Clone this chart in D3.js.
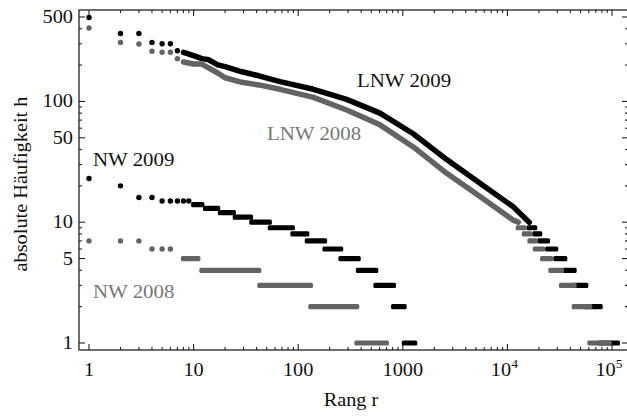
<!DOCTYPE html>
<html>
<head>
<meta charset="UTF-8">
<title>Rang-Häufigkeit</title>
<script src="https://d3js.org/d3.v7.min.js"></script>
<style>
  body { margin: 0; background: #fff; }
  svg text { font-family: "Liberation Serif", "DejaVu Serif", serif; }
</style>
</head>
<body>
<div id="chart"></div>
<script>
// points [rank, h] for the first ranks
var lnw09Head = [[1, 495], [2, 365], [3, 365], [4, 308], [5, 300], [6, 300], [7, 263]];
var lnw08Head = [[1, 405], [2, 308], [3, 299], [4, 260], [5, 255], [6, 255], [7, 226]];
// dense middle part [rank, h]
var lnw09Curve = [[8, 255], [10, 239], [12, 226], [14, 221], [17, 201], [20, 194], [29, 176], [42, 163],
                  [67, 146], [140, 126], [291, 104], [605, 80], [1260, 54], [2630, 33], [5470, 21],
                  [11400, 13.4], [16150, 10]];
var lnw08Curve = [[8, 212], [10, 204], [12, 204], [14, 189], [17, 172], [20, 157], [29, 144], [42, 137],
                  [67, 126], [140, 108], [291, 85], [605, 64], [1260, 42], [2630, 25.4], [5470, 16.3],
                  [11400, 10.4], [12700, 10]];
// runs of equal frequency [h, first rank, last rank]
var lnw09Runs = [[9, 16150, 18280], [8, 18280, 20400], [7, 20400, 24200], [6, 24200, 29000], [5, 29000, 35400],
                 [4, 35400, 43500], [3, 43500, 56200], [2, 56200, 77100], [1, 77100, 113000]];
var lnw08Runs = [[9, 12700, 14500], [8, 14500, 16400], [7, 16400, 18450], [6, 18450, 21700], [5, 21700, 26000],
                 [4, 26000, 32900], [3, 32900, 43500], [2, 43500, 61400], [1, 61400, 94000]];

var nw09Head = [[1, 23], [2, 20], [3, 16], [4, 16], [5, 15], [6, 15], [7, 15], [8, 15], [9, 15]];
var nw08Head = [[1, 7], [2, 7], [3, 7], [4, 6], [5, 6], [6, 6]];
var nw09Runs = [[14, 10, 12], [13, 13, 17], [12, 18, 24], [11, 25, 35], [10, 36, 53], [9, 54, 88], [8, 89, 121],
                [7, 122, 179], [6, 180, 255], [5, 256, 375], [4, 376, 552], [3, 553, 815], [2, 816, 1031],
                [1, 1032, 1303]];
var nw08Runs = [[5, 8, 11], [4, 12, 42], [3, 43, 131], [2, 132, 363], [1, 364, 698]];

var xMajor = [1, 10, 100, 1000, 1e4, 1e5];
var xLabels = ["1", "10", "100", "1000", ["10", "4"], ["10", "5"]];
var yMajor = [1, 5, 10, 50, 100, 500];
var yLabels = ["1", "5", "10", "50", "100", "500"];
var yMinor = [2, 3, 4, 6, 7, 8, 9, 20, 30, 40, 60, 70, 80, 90, 200, 300, 400];
var minorSteps = [2, 3, 4, 5, 6, 7, 8, 9];

var black = "#000", grey = "#636363";
var W = 627, H = 420;
var fLeft = 79, fRight = 628, fTop = 10, fBottom = 350;
var sx = 1.13; // text looks slightly stretched in the original

var svg = d3.select("#chart").append("svg").attr("width", W).attr("height", H);

var x = d3.scaleLog().domain([1, 1e5]).range([89, 612]);
var y = d3.scaleLog().domain([1, 500]).range([343, 17]);

function txt(px, py, s, anchor, size, color, rot) {
    var g = svg.append("g")
        .attr("transform", "translate(" + px + "," + py + ")" + (rot ? " rotate(" + rot + ")" : "") + " scale(" + sx + ",1)");
    return g.append("text")
        .attr("text-anchor", anchor)
        .style("font-size", size + "px")
        .style("fill", color)
        .text(s);
}

// frame
svg.append("rect")
    .attr("x", fLeft).attr("y", fTop)
    .attr("width", fRight - fLeft).attr("height", fBottom - fTop)
    .attr("fill", "none").attr("stroke", "#222").attr("stroke-width", 1.3);

// x ticks (bottom and top, pointing inwards)
var xMinor = [];
xMajor.slice(0, -1).forEach(function (d) {
    minorSteps.forEach(function (m) { xMinor.push(d * m); });
});
var ticks = svg.append("g").attr("stroke", "#222").attr("stroke-width", 1.1);
xMajor.concat(xMinor).forEach(function (d) {
    var len = xMajor.indexOf(d) >= 0 ? 6 : 3;
    ticks.append("line").attr("x1", x(d)).attr("x2", x(d)).attr("y1", fBottom).attr("y2", fBottom - len);
    ticks.append("line").attr("x1", x(d)).attr("x2", x(d)).attr("y1", fTop).attr("y2", fTop + len);
});
yMajor.concat(yMinor).forEach(function (d) {
    var len = yMajor.indexOf(d) >= 0 ? 6 : 3;
    ticks.append("line").attr("y1", y(d)).attr("y2", y(d)).attr("x1", fLeft).attr("x2", fLeft + len);
    ticks.append("line").attr("y1", y(d)).attr("y2", y(d)).attr("x1", fRight).attr("x2", fRight - len);
});

// tick labels
xMajor.forEach(function (d, i) {
    var lab = xLabels[i];
    if (typeof lab === "string") {
        txt(x(d), 376, lab, "middle", 18, "#111");
    } else {
        var t = txt(x(d) - 3, 376, lab[0], "middle", 18, "#111");
        t.append("tspan").attr("dy", -8).style("font-size", "12px").text(lab[1]);
    }
});
yMajor.forEach(function (d, i) {
    txt(73, y(d) + 6, yLabels[i], "end", 18, "#111");
});

// axis titles
txt(351, 406, "Rang r", "middle", 18, "#111");
txt(27, 184, "absolute Häufigkeit h", "middle", 18, "#111", -90);

// series
function drawSeries(head, curve, runs, color) {
    var g = svg.append("g");
    if (curve) {
        g.append("path")
            .datum(curve)
            .attr("d", d3.line().x(function (d) { return x(d[0]); }).y(function (d) { return y(d[1]); }))
            .attr("fill", "none").attr("stroke", color)
            .attr("stroke-width", 5.5).attr("stroke-linejoin", "round").attr("stroke-linecap", "round");
    }
    g.selectAll("rect.run").data(runs).enter().append("rect")
        .attr("class", "run")
        .attr("x", function (d) { return x(d[1]) - 2.5; })
        .attr("width", function (d) { return x(d[2]) - x(d[1]) + 5; })
        .attr("y", function (d) { return y(d[0]) - 2.6; })
        .attr("height", 5.2)
        .attr("rx", 1.5)
        .attr("fill", color);
    g.selectAll("circle").data(head).enter().append("circle")
        .attr("cx", function (d) { return x(d[0]); })
        .attr("cy", function (d) { return y(d[1]); })
        .attr("r", 2.7)
        .attr("fill", color);
}

drawSeries(lnw09Head, lnw09Curve, lnw09Runs, black);
drawSeries(lnw08Head, lnw08Curve, lnw08Runs, grey);
drawSeries(nw09Head, null, nw09Runs, black);
drawSeries(nw08Head, null, nw08Runs, grey);

// series labels
txt(357, 87, "LNW 2009", "start", 18.5, "#111");
txt(267, 140, "LNW 2008", "start", 18.5, "#777");
txt(93, 166, "NW 2009", "start", 18.5, "#111");
txt(93, 298, "NW 2008", "start", 18.5, "#777");
</script>
</body>
</html>
